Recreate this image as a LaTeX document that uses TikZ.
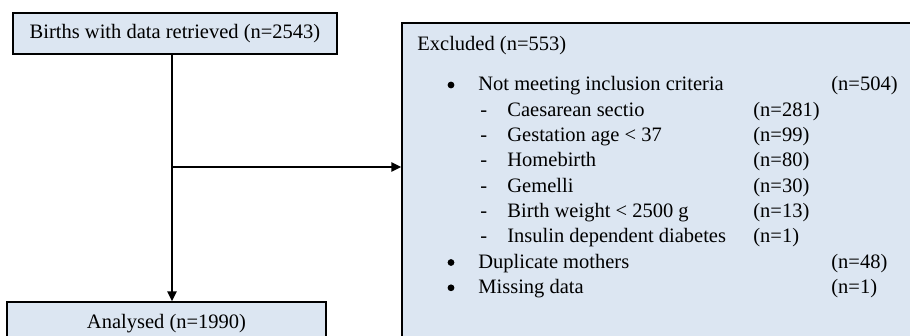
\documentclass[tikz,border=0pt]{standalone}
\usepackage{fontspec}
\setmainfont{Liberation Serif}
\usepackage{xcolor}
\usetikzlibrary{arrows.meta,positioning}
\definecolor{boxblue}{HTML}{DCE6F2}

\begin{document}
\begin{tikzpicture}[x=0.5pt,y=-0.5pt,font=\fontsize{10.25}{12.5}\selectfont]
            \tikzstyle{flowbox} = [rectangle, draw=black, line width=0.6pt, fill=boxblue, inner sep=0pt]
            \tikzstyle{txt} = [anchor=base west, inner sep=0pt]
            \tikzstyle{dot} = [circle, fill=black, inner sep=0pt, minimum size=3.4pt]
            \tikzstyle{arrow} = [line width=1pt, -{Triangle[length=5pt,width=4.5pt]}]

            \useasboundingbox (0,0) rectangle (910,336);

            \node [flowbox, minimum width=162pt, minimum height=20.5pt] (births) at (175,33.5) {Births with data retrieved (n=2543)};
            \node [flowbox, minimum width=159.5pt, minimum height=21.5pt] (analysed) at (166.5,323.5) {Analysed (n=1990)};
            \node [flowbox, minimum width=259pt, minimum height=161pt] (excluded) at (661,184) {};
            \coordinate (split) at (172,167);

            % excluded list
            \node [txt] (exhead) at (417,51) {Excluded (n=553)};
            \node [dot] (bul1) at (451,85) {};
            \node [txt] (crit) at (478,91) {Not meeting inclusion criteria};
            \node [txt] (critn) at (831,91) {(n=504)};
            \foreach \reason/\cnt [count=\i] in {Caesarean sectio/281, Gestation age < 37/99, Homebirth/80, Gemelli/30, Birth weight < 2500 g/13, Insulin dependent diabetes/1} {
                \node [txt] (dash\i) at (480,{91+25.3*\i}) {-};
                \node [txt] (sub\i) at (507,{91+25.3*\i}) {\reason};
                \node [txt] (subn\i) at (753,{91+25.3*\i}) {(n=\cnt)};
            }
            \node [dot] (bul2) at (451,262.5) {};
            \node [txt] (dup) at (478,268.5) {Duplicate mothers};
            \node [txt] (dupn) at (831,268.5) {(n=48)};
            \node [dot] (bul3) at (451,287.8) {};
            \node [txt] (miss) at (478,293.8) {Missing data};
            \node [txt] (missn) at (831,293.8) {(n=1)};

            \draw [arrow] (births.south -| split) -- (analysed.north -| split);
            \draw [arrow] (split) -- (excluded.west |- split);
\end{tikzpicture}
\end{document}
